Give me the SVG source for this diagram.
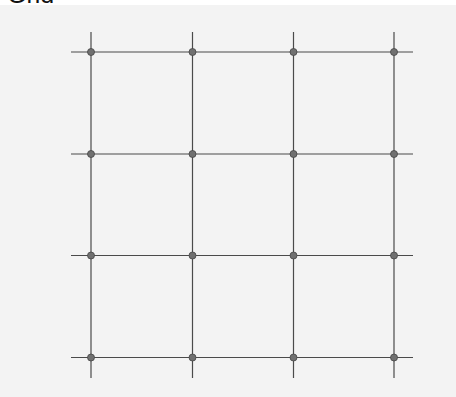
<svg xmlns="http://www.w3.org/2000/svg" width="456" height="397" viewBox="0 0 456 397">
<style>
.ln{stroke:#4a4a4a;stroke-width:1.2;fill:none}
.dot{fill:#707070;stroke:#444;stroke-width:0.8}
.t{font-family:"Liberation Sans",Arial,sans-serif;font-size:25px;fill:#111}
</style>
<rect x="0" y="0" width="456" height="397" fill="#f3f3f3"/>
<rect x="0" y="0" width="456" height="5" fill="#ffffff"/>
<text class="t" x="7" y="3">Grid</text>
<g id="connectors">
<line class="ln" x1="71" y1="52" x2="413" y2="52"/>
<line class="ln" x1="71" y1="154" x2="413" y2="154"/>
<line class="ln" x1="71" y1="255.5" x2="413" y2="255.5"/>
<line class="ln" x1="71" y1="357.5" x2="413" y2="357.5"/>
<line class="ln" x1="91" y1="32" x2="91" y2="378"/>
<line class="ln" x1="192.5" y1="32" x2="192.5" y2="378"/>
<line class="ln" x1="293.5" y1="32" x2="293.5" y2="378"/>
<line class="ln" x1="394" y1="32" x2="394" y2="378"/>
</g>
<g id="n11"><circle class="dot" cx="91" cy="52" r="3.5"/></g>
<g id="n12"><circle class="dot" cx="192.5" cy="52" r="3.5"/></g>
<g id="n13"><circle class="dot" cx="293.5" cy="52" r="3.5"/></g>
<g id="n14"><circle class="dot" cx="394" cy="52" r="3.5"/></g>
<g id="n21"><circle class="dot" cx="91" cy="154" r="3.5"/></g>
<g id="n22"><circle class="dot" cx="192.5" cy="154" r="3.5"/></g>
<g id="n23"><circle class="dot" cx="293.5" cy="154" r="3.5"/></g>
<g id="n24"><circle class="dot" cx="394" cy="154" r="3.5"/></g>
<g id="n31"><circle class="dot" cx="91" cy="255.5" r="3.5"/></g>
<g id="n32"><circle class="dot" cx="192.5" cy="255.5" r="3.5"/></g>
<g id="n33"><circle class="dot" cx="293.5" cy="255.5" r="3.5"/></g>
<g id="n34"><circle class="dot" cx="394" cy="255.5" r="3.5"/></g>
<g id="n41"><circle class="dot" cx="91" cy="357.5" r="3.5"/></g>
<g id="n42"><circle class="dot" cx="192.5" cy="357.5" r="3.5"/></g>
<g id="n43"><circle class="dot" cx="293.5" cy="357.5" r="3.5"/></g>
<g id="n44"><circle class="dot" cx="394" cy="357.5" r="3.5"/></g>
</svg>
